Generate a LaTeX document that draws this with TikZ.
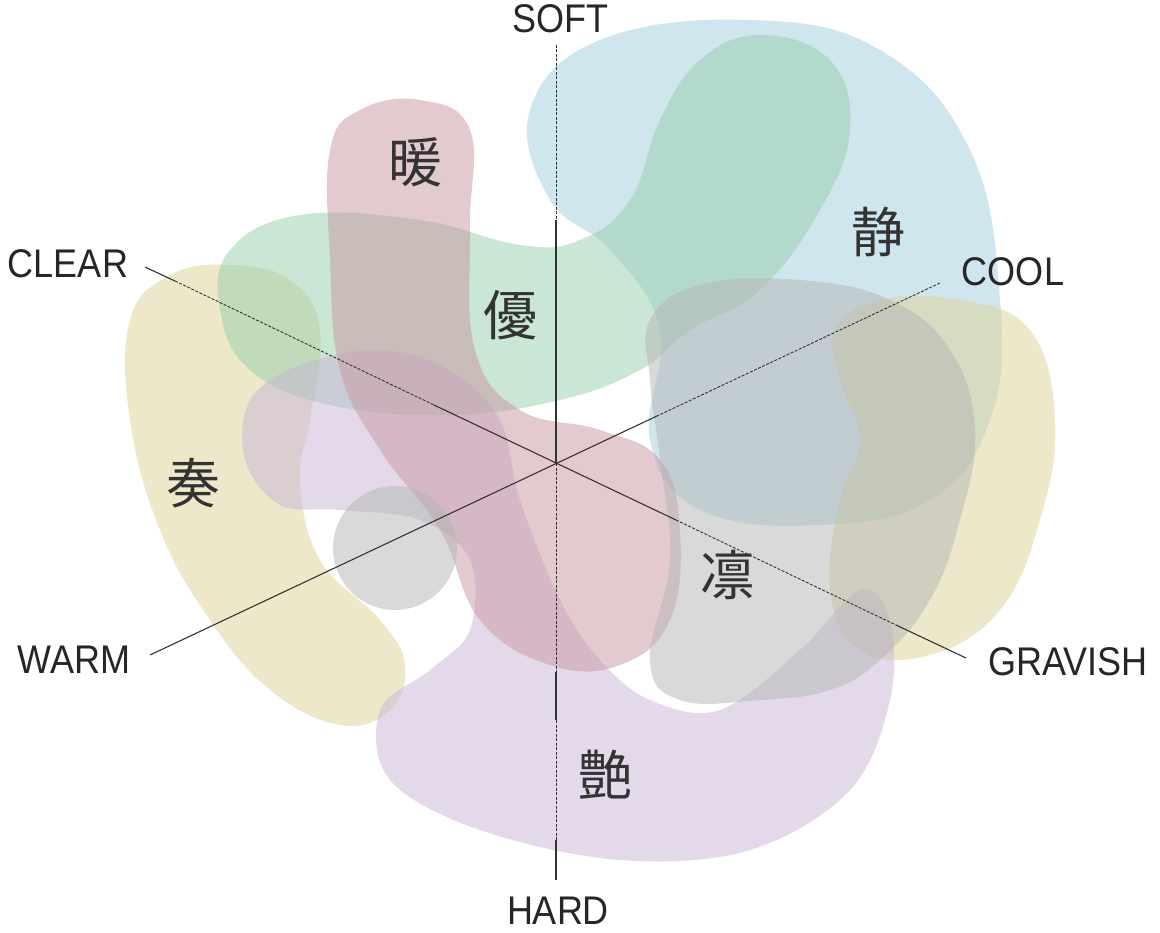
\documentclass[tikz,border=0pt]{standalone}
\usepackage{fontspec}
\setmainfont{Liberation Sans}
\newfontfamily\cjk{Noto Sans CJK JP}
\begin{document}
\begin{tikzpicture}[x=1pt,y=-1pt,
  blob/.style={fill opacity=0.5,draw=none},
  kan/.style={font=\cjk\fontsize{54}{54}\selectfont,text=black!80},
  lab/.style={font=\fontsize{40}{40}\selectfont,text=black!85,xscale=0.9,inner sep=1pt},
  ax/.style={line width=1.1pt,black!80},
  axd/.style={line width=0.9pt,black!80,dashed,dash pattern=on 3pt off 1.5pt}]
\useasboundingbox (0,0) rectangle (1160,933);
\definecolor{cblue}{RGB}{160,205,222}
\definecolor{cgreen}{RGB}{150,205,170}
\definecolor{cpink}{RGB}{200,150,160}
\definecolor{cpurp}{RGB}{200,180,215}
\definecolor{cgray}{RGB}{180,180,180}
\definecolor{cyell}{RGB}{220,210,150}
% blobs
\fill[blob,cblue] plot[smooth cycle,tension=0.7] coordinates{(530,110)(600,40)(750,20)(880,50)(970,150)(1000,300)(990,420)(930,500)(820,525)(700,510)(650,440)(660,330)(610,250)(550,200)};
\fill[blob,cyell] plot[smooth cycle,tension=0.7] coordinates{(130,320)(170,275)(230,265)(290,280)(320,330)(310,420)(300,480)(320,560)(380,620)(405,665)(390,710)(340,725)(270,690)(210,620)(160,530)(130,420)};
\fill[blob,cyell] plot[smooth cycle,tension=0.7] coordinates{(835,330)(880,300)(960,300)(1030,330)(1055,420)(1040,520)(1000,610)(930,655)(860,650)(830,590)(840,500)(860,440)(840,380)};
\fill[blob,cgreen] plot[smooth cycle,tension=0.7] coordinates{(230,250)(300,215)(420,220)(520,245)(580,240)(630,200)(660,120)(700,60)(760,35)(830,60)(850,130)(820,210)(760,290)(690,330)(640,370)(560,400)(450,415)(330,405)(250,370)(220,310)};
\fill[blob,cpurp] plot[smooth cycle,tension=0.6] coordinates{(250,400)(300,365)(380,350)(450,370)(500,420)(520,500)(560,600)(600,660)(650,700)(720,710)(800,650)(860,590)(890,620)(890,700)(850,790)(750,850)(620,860)(480,830)(390,780)(380,710)(430,670)(470,630)(470,560)(420,520)(340,510)(280,505)(245,460)};
\fill[blob,cpink] plot[smooth cycle,tension=0.7] coordinates{(330,150)(360,110)(420,100)(470,130)(470,230)(475,350)(520,410)(600,430)(660,460)(680,530)(670,620)(620,665)(550,665)(480,620)(440,530)(380,450)(340,370)(330,260)};
\fill[blob,cgray] plot[smooth cycle,tension=0.7] coordinates{(650,320)(700,285)(800,280)(890,300)(950,350)(975,430)(960,520)(930,600)(880,660)(830,690)(760,700)(680,700)(650,660)(670,560)(660,460)(650,380)};
\fill[blob,cgray] (395,548) circle (62);
% axes
\coordinate (c) at (556,463);
\coordinate (top) at (556,45); \coordinate (t1) at (556,220);
\coordinate (b1) at (556,672); \coordinate (b2) at (556,720); \coordinate (b3) at (556,840); \coordinate (bot) at (556,880);
\draw[axd] (top) -- (t1); \draw[ax] (t1) -- (c); \draw[axd] (c) -- (b1); \draw[ax] (b1) -- (b2); \draw[axd] (b2) -- (b3); \draw[ax] (b3) -- (bot);
\coordinate (cl) at (145,267); \coordinate (cl1) at (175,281); \coordinate (cl2) at (434,405);
\coordinate (gr1) at (676,520); \coordinate (gr2) at (896,625); \coordinate (gr) at (966,658);
\draw[ax] (cl) -- (cl1); \draw[axd] (cl1) -- (cl2); \draw[ax] (cl2) -- (gr1); \draw[axd] (gr1) -- (gr2); \draw[ax] (gr2) -- (gr);
\coordinate (co) at (940,283); \coordinate (co1) at (657,416); \coordinate (wa) at (150,655);
\draw[axd] (co) -- (co1); \draw[ax] (co1) -- (wa);
% labels
\node[lab] (soft) at (560,19) {SOFT};
\node[lab] (hard) at (558,911) {HARD};
\node[lab] (clear) at (68,264) {CLEAR};
\node[lab] (cool) at (1013,272) {COOL};
\node[lab] (warm) at (74,660) {WARM};
\node[lab] (grav) at (1068,662) {GRAVISH};
\node[kan] (k1) at (415,162) {暖};
\node[kan] (k2) at (510,315) {優};
\node[kan] (k3) at (878,232) {静};
\node[kan] (k4) at (193,483) {奏};
\node[kan] (k5) at (727,575) {凛};
\node[kan] (k6) at (605,775) {艶};
\end{tikzpicture}
\end{document}
